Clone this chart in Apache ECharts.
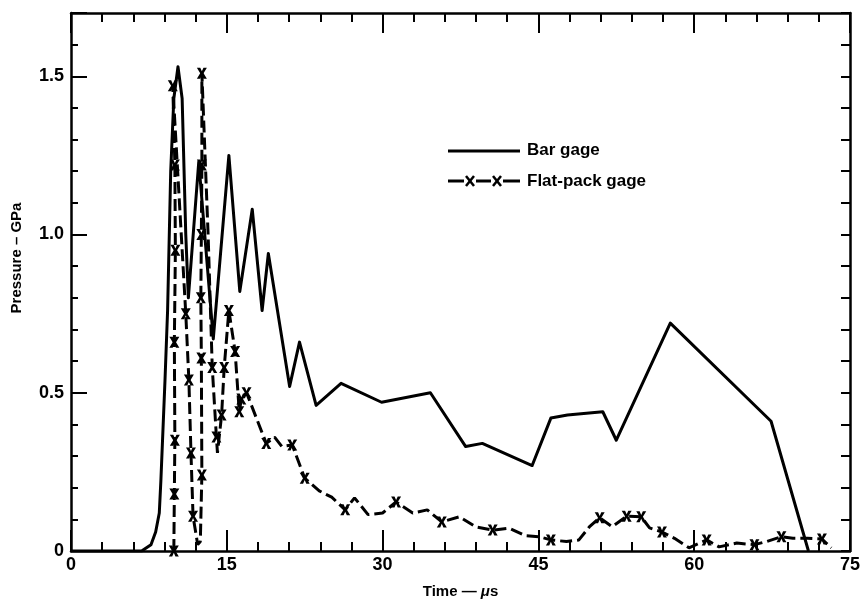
<!DOCTYPE html>
<html>
<head>
<meta charset="utf-8">
<script src="https://cdn.jsdelivr.net/npm/echarts@6/dist/echarts.min.js"></script>
<style>
  html, body { margin: 0; padding: 0; background: #fff; }
  #chart { width: 865px; height: 610px; }
</style>
</head>
<body>
<div id="chart"></div>
<script>
// Bar gage record: time (µs) and pressure (GPa)
const barTime = [0, 6.8, 7.7, 8.15, 8.5, 8.65, 8.85, 9.05, 9.3, 9.6, 9.9, 10.3, 10.7, 11.05, 11.3,
  12.3, 13.7, 15.2, 16.25, 17.45, 18.4, 19.0, 21.05, 22.0, 23.6, 26.0, 29.9, 34.6, 38.0, 39.6,
  44.4, 46.2, 47.8, 51.2, 52.5, 57.7, 67.4, 71.0];
const barPressure = [0, 0, 0.02, 0.06, 0.12, 0.22, 0.38, 0.54, 0.76, 1.2, 1.43, 1.53, 1.43, 1.0, 0.80,
  1.23, 0.67, 1.25, 0.82, 1.08, 0.76, 0.94, 0.52, 0.66, 0.46, 0.53, 0.47, 0.50, 0.33, 0.34,
  0.27, 0.42, 0.43, 0.44, 0.35, 0.72, 0.41, 0];

// Flat-pack gage record; packMarked flags the readings drawn with an x
const packTime = [9.9, 9.95, 10.0, 9.95, 10.05, 10.0, 9.8, 11.05, 11.35, 11.55, 11.75, 12.2, 12.45,
  12.6, 12.55, 12.5, 12.55, 12.6, 12.6, 13.2, 13.6, 14.0, 14.1, 14.5, 14.75, 15.2, 15.8, 16.2,
  16.4, 16.9, 18.8, 19.6, 20.3, 21.3, 22.5, 23.9, 25.1, 26.4, 27.3, 28.6, 30.0, 31.3, 32.9,
  34.3, 35.7, 37.4, 39.0, 40.6, 42.2, 43.8, 45.1, 46.2, 47.7, 48.9, 49.9, 50.9, 52.1, 53.5,
  54.9, 55.7, 56.9, 58.1, 59.5, 61.2, 62.4, 64.1, 65.8, 67.0, 68.4, 69.5, 70.9, 72.3, 73.2];
const packPressure = [0, 0.18, 0.35, 0.66, 0.95, 1.22, 1.47, 0.75, 0.54, 0.31, 0.11, 0.02, 0.03,
  0.24, 0.61, 0.80, 1.0, 1.22, 1.51, 1.0, 0.58, 0.36, 0.31, 0.43, 0.58, 0.76, 0.63, 0.44,
  0.48, 0.50, 0.34, 0.36, 0.33, 0.335, 0.23, 0.19, 0.17, 0.13, 0.168, 0.115, 0.12, 0.155, 0.12,
  0.13, 0.092, 0.108, 0.076, 0.066, 0.072, 0.048, 0.045, 0.035, 0.03, 0.035, 0.076, 0.105, 0.077, 0.11,
  0.108, 0.073, 0.06, 0.04, 0.01, 0.035, 0.013, 0.025, 0.02, 0.03, 0.045, 0.04, 0.04, 0.038, 0.01];
const packMarked = [1, 1, 1, 1, 1, 1, 1, 1, 1, 1, 1, 0, 0,
  1, 1, 1, 1, 1, 1, 0, 1, 1, 0, 1, 1, 1, 1, 1,
  1, 1, 1, 0, 0, 1, 1, 0, 0, 1, 0, 0, 0, 1, 0,
  0, 1, 0, 0, 1, 0, 0, 0, 1, 0, 0, 0, 1, 0, 1,
  1, 0, 1, 0, 0, 1, 0, 0, 1, 0, 1, 0, 0, 1, 0];

// Axis ranges and labelled ticks
const timeMax = 75, timeStep = 15;
const pressureMax = 1.7, pressureStep = 0.5;
const pressureLabels = { '0': '0', '0.5': '0.5', '1': '1.0', '1.5': '1.5' };

const INK = '#000';
const FONT = "'Liberation Sans', Arial, sans-serif";
const X_MARK = 'path://M0 0H3.4L5 3.3L6.6 0H10L6.7 5L10 10H6.6L5 6.7L3.4 10H0L3.3 5Z';

const chart = echarts.init(document.getElementById('chart'), null, { renderer: 'canvas' });

const frameLine = { show: true, onZero: false, lineStyle: { color: INK, width: 2.5 } };
const tickLine = { color: INK, width: 2 };
const noSplit = { show: false };

const packData = packTime.map((t, i) => ({
  value: [t, packPressure[i]],
  symbol: packMarked[i] ? X_MARK : 'none',
  symbolSize: [10, 11]
}));
const barData = barTime.map((t, i) => [t, barPressure[i]]);

const tickLabelStyle = { color: INK, fontFamily: FONT, fontWeight: 'bold', fontSize: 18 };

chart.setOption({
  animation: false,
  backgroundColor: '#fff',
  grid: { left: 71, right: 15, top: 13, bottom: 59, containLabel: false },
  xAxis: [
    {
      type: 'value', position: 'bottom', min: 0, max: timeMax, interval: timeStep,
      axisLine: frameLine,
      axisTick: { show: true, inside: true, length: 21, lineStyle: tickLine },
      minorTick: { show: true, splitNumber: 5, length: 9, lineStyle: tickLine },
      splitLine: noSplit,
      axisLabel: { ...tickLabelStyle, margin: 5 },
      name: 'Time — {mu|μ}s', nameLocation: 'middle', nameGap: 33,
      nameTextStyle: {
        color: INK, fontFamily: FONT, fontWeight: 'bold', fontSize: 15,
        rich: { mu: { color: INK, fontFamily: FONT, fontWeight: 'bold', fontStyle: 'italic', fontSize: 15 } }
      }
    },
    {
      type: 'value', position: 'top', min: 0, max: timeMax, interval: timeStep,
      axisLine: frameLine,
      axisTick: { show: true, inside: true, length: 20, lineStyle: tickLine },
      minorTick: { show: true, splitNumber: 5, length: 9, lineStyle: tickLine },
      splitLine: noSplit,
      axisLabel: { show: false }
    }
  ],
  yAxis: [
    {
      type: 'value', position: 'left', min: 0, max: pressureMax, interval: 0.1,
      axisLine: frameLine,
      axisTick: { show: true, inside: true, length: 7, lineStyle: tickLine },
      splitLine: noSplit,
      axisLabel: {
        ...tickLabelStyle, margin: 7, showMaxLabel: false, showMinLabel: true,
        formatter: v => {
          const key = String(Math.round(v * 10) / 10);
          return pressureLabels[key] !== undefined ? pressureLabels[key] : '';
        }
      }
    },
    {
      type: 'value', position: 'left', min: 0, max: pressureMax, interval: pressureStep,
      axisLine: { show: false, onZero: false },
      axisTick: { show: true, inside: true, length: 16, lineStyle: tickLine },
      splitLine: noSplit,
      axisLabel: { show: false }
    },
    {
      type: 'value', position: 'right', min: 0, max: pressureMax, interval: 0.1,
      axisLine: frameLine,
      axisTick: { show: true, inside: true, length: 9, lineStyle: tickLine },
      splitLine: noSplit,
      axisLabel: { show: false }
    }
  ],
  series: [
    {
      name: 'Bar gage', type: 'line', xAxisIndex: 0, yAxisIndex: 0,
      data: barData, showSymbol: false, symbol: 'none', smooth: false, z: 2,
      lineStyle: { color: INK, width: 3, join: 'round' }
    },
    {
      name: 'Flat-pack gage', type: 'line', xAxisIndex: 0, yAxisIndex: 0,
      data: packData, showSymbol: true, smooth: false, z: 3,
      itemStyle: { color: INK, borderWidth: 0 },
      lineStyle: { color: INK, width: 3, type: [12, 5] }
    }
  ],
  graphic: [
    // y-axis title
    {
      type: 'text', x: 17, y: 258, rotation: Math.PI / 2,
      style: {
        text: 'Pressure – GPa', fill: INK, font: 'bold 15px ' + FONT,
        align: 'center', verticalAlign: 'middle', textAlign: 'center', textVerticalAlign: 'middle'
      }
    },
    // key: solid line
    { type: 'line', shape: { x1: 448, y1: 151, x2: 520, y2: 151 }, style: { stroke: INK, lineWidth: 3 } },
    {
      type: 'text', x: 527, y: 150,
      style: { text: 'Bar gage', fill: INK, font: 'bold 17px ' + FONT, align: 'left', verticalAlign: 'middle', textAlign: 'left', textVerticalAlign: 'middle' }
    },
    // key: dashed line with x marks
    { type: 'line', shape: { x1: 448, y1: 181, x2: 464, y2: 181 }, style: { stroke: INK, lineWidth: 3 } },
    { type: 'line', shape: { x1: 476, y1: 181, x2: 491, y2: 181 }, style: { stroke: INK, lineWidth: 3 } },
    { type: 'line', shape: { x1: 503, y1: 181, x2: 520, y2: 181 }, style: { stroke: INK, lineWidth: 3 } },
    { type: 'line', shape: { x1: 466, y1: 176, x2: 474, y2: 186 }, style: { stroke: INK, lineWidth: 2.5 } },
    { type: 'line', shape: { x1: 474, y1: 176, x2: 466, y2: 186 }, style: { stroke: INK, lineWidth: 2.5 } },
    { type: 'line', shape: { x1: 493, y1: 176, x2: 501, y2: 186 }, style: { stroke: INK, lineWidth: 2.5 } },
    { type: 'line', shape: { x1: 501, y1: 176, x2: 493, y2: 186 }, style: { stroke: INK, lineWidth: 2.5 } },
    {
      type: 'text', x: 527, y: 181,
      style: { text: 'Flat-pack gage', fill: INK, font: 'bold 17px ' + FONT, align: 'left', verticalAlign: 'middle', textAlign: 'left', textVerticalAlign: 'middle' }
    }
  ]
});
</script>
</body>
</html>
